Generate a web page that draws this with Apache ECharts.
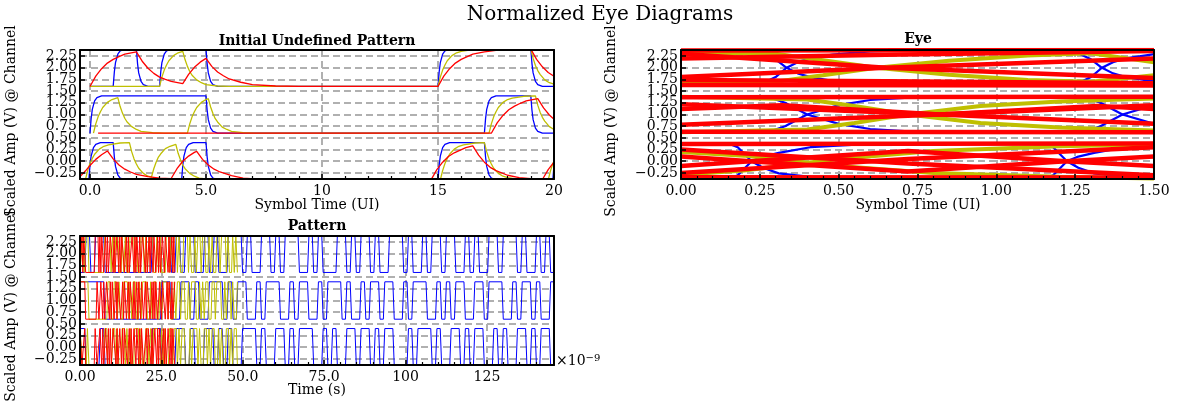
<!DOCTYPE html>
<html><head><meta charset="utf-8">
<script src="https://cdn.jsdelivr.net/npm/echarts@6/dist/echarts.min.js"></script>
<style>html,body{margin:0;padding:0;background:#fff}#c{width:1200px;height:401px}</style>
</head><body><div id="c"></div>
<script>
// ---------- tick labels ----------
const yTickVals = [-0.25,0,0.25,0.5,0.75,1,1.25,1.5,1.75,2,2.25];
const yTickLabels = ['\u22120.25','0.00','0.25','0.50','0.75','1.00','1.25','1.50','1.75','2.00','2.25'];
const initXTickVals = [0,5,10,15,20];
const initXTickLabels = ['0.0','5.0','10','15','20'];
const initXMinor = [1,2,3,4,6,7,8,9,11,12,13,14,16,17,18,19];
const eyeXTickVals = [0,0.25,0.5,0.75,1,1.25,1.5];
const eyeXTickLabels = ['0.00','0.25','0.50','0.75','1.00','1.25','1.50'];
const patXTickVals = [0,25,50,75,100,125];
const patXTickLabels = ['0.00','25.0','50.0','75.0','100','125'];

// ---------- Initial Undefined Pattern (x in UI) ----------
const initBlueTop = [[0,1.6],[1,1.6],[1.05,1.91],[1.1,2.11],[1.2,2.29],[1.3,2.36],[1.5,2.4],[2,2.4],[2.05,2.09],[2.1,1.89],[2.2,1.71],[2.3,1.64],[2.5,1.6],[3,1.6],[3.05,1.91],[3.1,2.11],[3.2,2.29],[3.3,2.36],[3.5,2.4],[5,2.4],[5.05,2.09],[5.1,1.89],[5.2,1.71],[5.3,1.64],[5.5,1.6],[15,1.6],[15.05,1.91],[15.1,2.11],[15.2,2.29],[15.3,2.36],[15.5,2.4],[19,2.4],[19.05,2.09],[19.1,1.89],[19.2,1.71],[19.3,1.64],[19.5,1.6],[20,1.6]];
const initYellowTop = [[0,1.6],[3,1.6],[3.1,1.8],[3.2,1.95],[3.3,2.06],[3.4,2.15],[3.6,2.26],[3.8,2.32],[4,2.35],[4.1,2.17],[4.2,2.03],[4.3,1.92],[4.4,1.84],[4.6,1.74],[4.8,1.68],[5,1.64],[5.5,1.61],[6,1.6],[15,1.6],[15.1,1.8],[15.2,1.95],[15.3,2.06],[15.4,2.15],[15.6,2.26],[15.8,2.32],[16,2.35],[16.5,2.39],[17,2.4],[19,2.4],[19.1,2.2],[19.2,2.05],[19.3,1.94],[19.4,1.86],[19.6,1.74],[19.8,1.68],[20,1.65]];
const initRedTop = [[0,1.6],[0.25,1.82],[0.5,1.98],[0.75,2.1],[1,2.18],[1.25,2.24],[1.5,2.29],[2,2.34],[2.25,2.14],[2.5,1.99],[2.75,1.88],[3,1.8],[3.25,1.75],[3.5,1.71],[4,1.66],[4.25,1.86],[4.5,2.01],[4.75,2.12],[5,2.2],[5.25,2.03],[5.5,1.91],[5.75,1.83],[6,1.76],[6.5,1.69],[7,1.64],[8,1.61],[9,1.6],[15,1.6],[15.25,1.82],[15.5,1.98],[15.75,2.1],[16,2.18],[16.5,2.29],[17,2.34],[17.5,2.37],[18,2.38],[19,2.4],[19.25,2.18],[19.5,2.02],[19.75,1.9],[20,1.82]];
const initBlueMid = [[0,0.6],[0.05,0.91],[0.1,1.11],[0.2,1.29],[0.3,1.36],[0.5,1.4],[5,1.4],[5.05,1.09],[5.1,0.89],[5.2,0.71],[5.3,0.64],[5.5,0.6],[17,0.6],[17.05,0.91],[17.1,1.11],[17.2,1.29],[17.3,1.36],[17.5,1.4],[19,1.4],[19.05,1.09],[19.1,0.89],[19.2,0.71],[19.3,0.64],[19.5,0.6],[20,0.6]];
const initYellowMid = [[0.15,0.6],[0.25,0.8],[0.35,0.95],[0.45,1.06],[0.55,1.15],[0.75,1.26],[0.95,1.32],[1.2,1.36],[1.3,1.17],[1.4,1.03],[1.5,0.92],[1.6,0.84],[1.8,0.74],[2,0.68],[2.2,0.64],[2.7,0.61],[3.2,0.6],[4.2,0.6],[4.3,0.8],[4.4,0.95],[4.5,1.06],[4.6,1.15],[4.8,1.26],[5,1.32],[5.1,1.34],[5.2,1.16],[5.3,1.02],[5.4,0.91],[5.5,0.84],[5.7,0.73],[5.9,0.68],[6.1,0.64],[6.6,0.61],[7.1,0.6],[17.2,0.6],[17.3,0.8],[17.4,0.95],[17.5,1.06],[17.6,1.15],[17.8,1.26],[18,1.32],[18.2,1.35],[18.7,1.39],[19.2,1.4],[19.3,1.2],[19.4,1.05],[19.5,0.94],[19.6,0.86],[19.8,0.74],[20,0.68]];
const initRedMid = [[0.35,0.6],[17.3,0.6],[17.55,0.82],[17.8,0.98],[18.05,1.1],[18.3,1.18],[18.55,1.24],[18.8,1.29],[19.3,1.34],[19.55,1.14],[19.8,0.99],[20,0.9]];
const initBlueBot = [[-0.05,-0.4],[0,-0.09],[0.05,0.11],[0.15,0.29],[0.25,0.36],[0.45,0.4],[1,0.4],[1.05,0.09],[1.1,-0.11],[1.2,-0.29],[1.3,-0.36],[1.5,-0.4],[3.95,-0.4],[4,-0.09],[4.05,0.11],[4.15,0.29],[4.25,0.36],[4.45,0.4],[5,0.4],[5.05,0.09],[5.1,-0.11],[5.2,-0.29],[5.3,-0.36],[5.5,-0.4],[15,-0.4],[15.05,-0.09],[15.1,0.11],[15.2,0.29],[15.3,0.36],[15.5,0.4],[17,0.4],[17.05,0.09],[17.1,-0.11],[17.2,-0.29],[17.3,-0.36],[17.5,-0.4],[19.95,-0.4],[20,-0.09]];
const initYellowBot = [[-0.2,-0.4],[-0.1,-0.2],[0,-0.05],[0.1,0.06],[0.2,0.15],[0.4,0.26],[0.6,0.32],[0.8,0.35],[1.3,0.39],[1.7,0.4],[1.8,0.2],[1.9,0.05],[2,-0.06],[2.1,-0.15],[2.3,-0.26],[2.5,-0.32],[2.65,-0.34],[2.75,-0.16],[2.85,-0.02],[2.95,0.09],[3.05,0.16],[3.25,0.27],[3.45,0.32],[3.7,0.36],[3.8,0.17],[3.9,0.03],[4,-0.08],[4.1,-0.16],[4.3,-0.26],[4.5,-0.32],[4.7,-0.36],[5.2,-0.39],[5.7,-0.4],[15.1,-0.4],[15.2,-0.2],[15.3,-0.05],[15.4,0.06],[15.5,0.15],[15.7,0.26],[15.9,0.32],[16.1,0.35],[16.6,0.39],[17,0.4],[17.1,0.2],[17.2,0.05],[17.3,-0.06],[17.4,-0.15],[17.6,-0.26],[17.8,-0.32],[18,-0.35],[18.5,-0.39],[19.75,-0.4],[19.85,-0.2],[19.95,-0.05],[20,0]];
const initRedBot = [[-0.43,-0.33],[-0.2,-0.21],[0,-0.09],[0.25,0.04],[0.5,0.14],[0.75,0.22],[1,0.05],[1.25,-0.08],[1.5,-0.17],[1.75,-0.23],[2,-0.28],[2.5,-0.33],[3,-0.36],[3.5,-0.37],[3.75,-0.16],[4,0],[4.25,0.11],[4.5,0.19],[4.6,0.21],[4.85,0.04],[5.1,-0.08],[5.35,-0.17],[5.6,-0.23],[6.1,-0.31],[6.6,-0.36],[7.1,-0.38],[8,-0.39],[14.7,-0.4],[14.95,-0.18],[15.2,-0.02],[15.45,0.1],[15.7,0.18],[16.2,0.29],[16.5,0.33],[16.75,0.13],[17,-0.02],[17.25,-0.13],[17.5,-0.2],[18,-0.3],[18.5,-0.35],[19,-0.37],[19.5,-0.39],[19.75,-0.18],[20,-0.02]];

// ---------- Eye (x in UI) ----------
const eyeBlue = [
 [[0.19,1.61],[0.26,1.67],[0.3,1.8],[0.335,2.0],[0.37,2.12],[0.41,2.2],[0.48,2.28],[0.6,2.35],[0.75,2.38]],
 [[0.19,2.39],[0.26,2.31],[0.3,2.18],[0.335,2.0],[0.37,1.88],[0.41,1.8],[0.48,1.72],[0.6,1.65],[0.75,1.62]],
 [[1.19,1.61],[1.26,1.67],[1.3,1.8],[1.335,2.0],[1.37,2.12],[1.41,2.2],[1.48,2.27],[1.5,2.29]],
 [[1.19,2.39],[1.26,2.31],[1.3,2.18],[1.335,2.0],[1.37,1.88],[1.41,1.8],[1.48,1.73],[1.5,1.72]],
 [[0.27,0.61],[0.33,0.75],[0.4,1.0],[0.5,1.2],[0.6,1.31],[0.75,1.37]],
 [[0.27,1.39],[0.33,1.25],[0.4,1.0],[0.5,0.8],[0.6,0.69],[0.75,0.63]],
 [[1.27,0.61],[1.33,0.75],[1.4,1.0],[1.5,1.2]],
 [[1.27,1.39],[1.33,1.25],[1.4,1.0],[1.5,0.8]],
 [[0.15,0.38],[0.18,0.3],[0.224,0.0],[0.26,-0.14],[0.31,-0.26],[0.43,-0.35],[0.6,-0.38]],
 [[0.15,-0.38],[0.18,-0.3],[0.224,0.0],[0.26,0.1],[0.31,0.18],[0.41,0.3],[0.6,0.37]],
 [[1.15,0.38],[1.18,0.3],[1.224,0.0],[1.26,-0.14],[1.31,-0.26],[1.43,-0.35],[1.5,-0.37]],
 [[1.15,-0.38],[1.18,-0.3],[1.224,0.0],[1.26,0.1],[1.31,0.18],[1.41,0.3],[1.5,0.34]]
];
const eyeYellow = [
 [[0,2.33],[0.3,2.3],[0.45,2.16],[0.62,2.0],[0.85,1.85],[1.1,1.74],[1.3,1.7],[1.5,1.84]],
 [[0,1.67],[0.3,1.7],[0.45,1.84],[0.62,2.0],[0.85,2.15],[1.1,2.26],[1.3,2.31],[1.5,2.12]],
 [[0,1.38],[0.4,1.32],[0.55,1.18],[0.72,1.0],[0.95,0.82],[1.2,0.72],[1.5,0.66]],
 [[0,0.62],[0.4,0.68],[0.55,0.82],[0.72,1.0],[0.95,1.18],[1.2,1.28],[1.5,1.34]],
 [[0,-0.29],[0.2,-0.2],[0.5,0.05],[0.8,0.22],[1.2,0.32],[1.5,0.36]],
 [[0,0.2],[0.2,0.12],[0.5,-0.1],[0.8,-0.25],[1.2,-0.33],[1.5,-0.37]]
];
const eyeRed = [
 [[0,2.37],[1.5,2.38]],
 [[0,1.63],[1.5,1.62]],
 [[0,2.2],[0.65,2.28],[1.5,2.36]],
 [[0,2.3],[0.65,2.0],[1.5,1.78]],
 [[0,1.8],[0.65,2.0],[1.5,2.2]],
 [[0,1.74],[0.65,1.71],[1.5,1.67]],
 [[0,1.37],[1.5,1.38]],
 [[0,0.63],[1.5,0.62]],
 [[0,1.22],[0.82,1.0],[1.5,0.8]],
 [[0,0.78],[0.82,1.0],[1.5,1.2]],
 [[0,1.12],[0.32,1.2],[0.82,1.0],[1.32,1.18],[1.5,1.12]],
 [[0,0.37],[1.5,0.38]],
 [[0,-0.34],[1.5,-0.35]],
 [[0,-0.1],[0.22,0],[0.72,0.22],[1.22,0],[1.5,-0.1]],
 [[0,0.1],[0.22,0],[0.72,-0.22],[1.22,0],[1.5,0.1]],
 [[0,-0.25],[0.72,0.05],[1.5,0.3]],
 [[0,0.25],[0.72,-0.05],[1.5,-0.3]]
];

// ---------- Pattern: symbol sequences per lane (100 symbols), symbol times in ns ----------
const patBitsTop = [0,1,0,1,1,0,0,0,0,0,0,0,0,0,0,1,1,1,1,0, 1,0,1,1,0,0,1,0,1,0, 0,1,1,1,0,1,0,0,1,1, 0,1,0,1,1,1,0,0,1,0, 1,0,0,0,1,1,0,1,0,1, 1,0,1,0,0,1,1,1,0,1, 0,0,1,0,1,1,0,1,1,0, 0,1,0,1,0,0,1,1,0,1, 1,1,0,1,0,0,1,0,1,0];
const patBitsMid = [1,1,1,1,1,0,0,0,0,0,0,0,0,0,0,0,0,1,1,0, 0,1,1,0,1,0,0,1,1,1, 0,1,0,1,1,0,0,1,0,1, 1,1,0,0,1,0,1,1,0,0, 1,0,1,1,1,0,1,0,0,1, 0,1,1,0,1,1,0,0,1,0, 1,1,1,0,0,1,0,1,0,1, 1,0,0,1,1,0,1,1,1,0, 0,1,0,1,1,0,1,0,0,1];
const patBitsBot = [1,0,0,0,1,0,0,0,0,0,0,0,0,0,0,1,1,0,0,0, 1,1,0,1,0,0,1,1,0,1, 0,1,0,0,1,1,1,0,1,0, 0,1,1,0,1,0,1,1,1,0, 0,1,0,1,0,0,1,1,0,1, 1,0,1,0,1,1,0,0,0,1, 0,1,1,1,0,1,0,0,1,1, 0,1,0,1,1,0,0,1,0,1, 0,0,1,1,0,1,0,1,1,0];
const patUiBlue = 1.456, patUiYellow = 0.485, patUiRed = 0.291;

// ---------- colours / styles ----------
const C_BLUE = '#0000ff', C_YEL = '#bfbf00', C_RED = '#ff0000';
const FONT = '"DejaVu Serif", "Liberation Serif", serif';
const GRIDC = '#b0b0b0';

const grids = [
  {left:80, top:50, width:474, height:129},
  {left:681, top:50, width:473, height:129},
  {left:80, top:236, width:474, height:129}
];
const xAxes = [], yAxes = [];
const noLine = {show:false, onZero:false};
const frameLine = {show:true, onZero:false, lineStyle:{color:'#000', width:2}};
const fmt = (vals, labs) => (v) => { const i = vals.findIndex(u => Math.abs(u - v) < 1e-9); return i >= 0 ? labs[i] : ''; };
const yLabelsA = yTickVals.filter((v, i) => i % 2 === 0);
const yLabelsB = yTickVals.filter((v, i) => i % 2 === 1);
function addAxes(g, xmin, xmax, xVals, xLabels, xMinor){
  const base = xAxes.length;
  xAxes.push({gridIndex:g, type:'value', min:xmin, max:xmax, position:'bottom', z:0,
    axisLine:noLine, axisTick:{show:false, customValues:xVals}, axisLabel:{show:false, customValues:xVals},
    splitLine:{show:true, lineStyle:{color:GRIDC, width:2, type:[7,4]}}});
  xAxes.push({gridIndex:g, type:'value', min:xmin, max:xmax, position:'bottom', z:10,
    axisLine:frameLine,
    axisTick:{show:true, inside:true, length:5, customValues:xVals, lineStyle:{color:'#000', width:1.5}},
    axisLabel:{show:true, customValues:xVals, formatter:fmt(xVals,xLabels), color:'#000', fontFamily:FONT, fontSize:14, margin:5, showMinLabel:true, showMaxLabel:true, hideOverlap:false},
    splitLine:{show:false}});
  xAxes.push({gridIndex:g, type:'value', min:xmin, max:xmax, position:'bottom', z:10,
    axisLine:noLine,
    axisTick:{show:true, inside:true, length:3, customValues:xMinor, lineStyle:{color:'#000', width:1.2}},
    axisLabel:{show:false, customValues:xMinor}, splitLine:{show:false}});
  xAxes.push({gridIndex:g, type:'value', min:xmin, max:xmax, position:'top', z:10,
    axisLine:frameLine, axisTick:{show:false}, axisLabel:{show:false}, splitLine:{show:false}});
  const ybase = yAxes.length;
  yAxes.push({gridIndex:g, type:'value', min:-0.38, max:2.38, position:'left', z:0,
    axisLine:noLine, axisTick:{show:false, customValues:yTickVals}, axisLabel:{show:false, customValues:yTickVals},
    splitLine:{show:true, lineStyle:{color:GRIDC, width:2, type:[7,4]}}});
  // left frame + ticks + every other label
  yAxes.push({gridIndex:g, type:'value', min:-0.38, max:2.38, position:'left', z:10,
    axisLine:frameLine,
    axisTick:{show:true, inside:true, length:5, customValues:yTickVals, lineStyle:{color:'#000', width:1.5}},
    axisLabel:{show:true, customValues:yLabelsA, formatter:fmt(yTickVals,yTickLabels), color:'#000', fontFamily:FONT, fontSize:14, margin:3, showMinLabel:true, showMaxLabel:true, hideOverlap:false},
    splitLine:{show:false}});
  // remaining labels
  yAxes.push({gridIndex:g, type:'value', min:-0.38, max:2.38, position:'left', z:10,
    axisLine:noLine, axisTick:{show:false, customValues:yLabelsB},
    axisLabel:{show:true, customValues:yLabelsB, formatter:fmt(yTickVals,yTickLabels), color:'#000', fontFamily:FONT, fontSize:14, margin:3, showMinLabel:true, showMaxLabel:true, hideOverlap:false},
    splitLine:{show:false}});
  yAxes.push({gridIndex:g, type:'value', min:-0.38, max:2.38, position:'right', z:10,
    axisLine:frameLine, axisTick:{show:false}, axisLabel:{show:false}, splitLine:{show:false}});
  return {x:base, y:ybase};
}
const eyeMinor = [];
for (let i = 1; i < 30; i++) { if (i % 5) eyeMinor.push(+(i*0.05).toFixed(2)); }
const patMinor = [];
for (let t = 5; t < 145; t += 5) { if (t % 25) patMinor.push(t); }

const A0 = addAxes(0, -0.43, 20, initXTickVals, initXTickLabels, initXMinor);
const A1 = addAxes(1, 0, 1.5, eyeXTickVals, eyeXTickLabels, eyeMinor);
const A2 = addAxes(2, 0, 145.6, patXTickVals, patXTickLabels, patMinor);

const series = [];
function line(ax, data, color, width){
  series.push({type:'line', xAxisIndex:ax.x, yAxisIndex:ax.y, data:data, showSymbol:false, symbol:'none',
    lineStyle:{color:color, width:width}, animation:false, silent:true, clip:true, z:2});
}
[initBlueTop, initBlueMid, initBlueBot].forEach(d => line(A0, d, C_BLUE, 1.3));
[initYellowTop, initYellowMid, initYellowBot].forEach(d => line(A0, d, C_YEL, 1.3));
[initRedTop, initRedMid, initRedBot].forEach(d => line(A0, d, C_RED, 1.3));
eyeBlue.forEach(d => line(A1, d, C_BLUE, 2.2));
eyeYellow.forEach(d => line(A1, d, C_YEL, 4));
eyeRed.forEach(d => line(A1, d, C_RED, 4.5));

// symbol sequence -> trapezoid waveform (edge = fraction of a symbol)
function bitsToWave(bits, ui, lo, hi, edgeFrac){
  const lv = b => b ? hi : lo;
  const pts = [[0, lv(bits[0])]];
  for (let k = 1; k < bits.length; k++) {
    if (bits[k] !== bits[k-1]) { pts.push([k*ui, lv(bits[k-1])]); pts.push([k*ui + edgeFrac*ui, lv(bits[k])]); }
  }
  pts.push([bits.length*ui, lv(bits[bits.length-1])]);
  return pts;
}
const lanes = [[patBitsTop,1.6,2.4],[patBitsMid,0.6,1.4],[patBitsBot,-0.4,0.4]];
lanes.forEach(l => line(A2, bitsToWave(l[0], patUiBlue, l[1], l[2], 0.3), C_BLUE, 1));
lanes.forEach(l => line(A2, bitsToWave(l[0], patUiYellow, l[1], l[2], 0.7), C_YEL, 1));
lanes.forEach(l => line(A2, bitsToWave(l[0], patUiRed, l[1], l[2], 1.0), C_RED, 1));

function txt(x, y, s, font, rot){
  return {type:'text', x:x, y:y, rotation:rot||0, z:20,
    style:{text:s, font:font, fill:'#000', textAlign:'center', textVerticalAlign:'middle'}};
}
const graphics = [
  txt(600, 15, 'Normalized Eye Diagrams', '20px ' + FONT),
  txt(317, 41, 'Initial Undefined Pattern', 'bold 14px ' + FONT),
  txt(918, 39, 'Eye', 'bold 14px ' + FONT),
  txt(317, 226, 'Pattern', 'bold 14px ' + FONT),
  txt(317, 205, 'Symbol Time (UI)', '14px ' + FONT),
  txt(918, 205, 'Symbol Time (UI)', '14px ' + FONT),
  txt(317, 390, 'Time (s)', '14px ' + FONT),
  txt(11, 121, 'Scaled Amp (V) @ Channel', '14px ' + FONT, Math.PI/2),
  txt(611, 121, 'Scaled Amp (V) @ Channel', '14px ' + FONT, Math.PI/2),
  txt(11, 306, 'Scaled Amp (V) @ Channel', '14px ' + FONT, Math.PI/2),
  {type:'text', x:556, y:361, z:20, style:{text:'\u00d710{s|\u22129}', font:'14px ' + FONT, fill:'#000', textAlign:'left', textVerticalAlign:'middle',
    rich:{s:{fontSize:10, fontFamily:FONT, verticalAlign:'top', padding:[0,0,6,0]}}}}
];

const chart = echarts.init(document.getElementById('c'), null, {renderer:'canvas'});
chart.setOption({animation:false, grid:grids, xAxis:xAxes, yAxis:yAxes, series:series, graphic:graphics});
</script></body></html>
